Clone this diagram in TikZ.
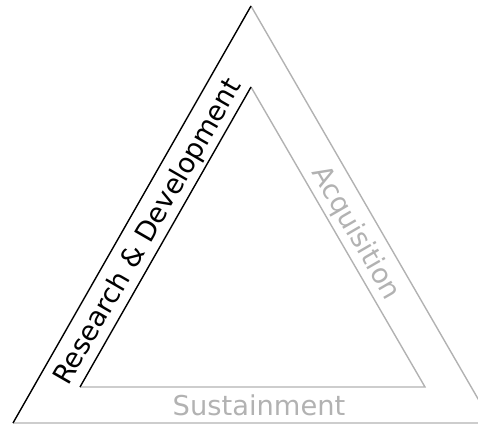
\documentclass[tikz,border=0pt]{standalone}
\usepackage{fontspec}
\setmainfont{DejaVu Sans}
\usepackage{tikz}
\usetikzlibrary{calc, positioning}
\definecolor{sidegrey}{RGB}{178,178,178}

\begin{document}
\begin{tikzpicture}[x=1pt, y=-1pt, line width=1.4pt,
    side label/.style={font=\fontsize{27.3}{32}\selectfont, inner sep=0pt, anchor=base}]
                                \clip (0, 0) rectangle (478, 424);
                                \coordinate (outer top) at (251, 6);
                                \coordinate (outer left) at (13, 423);
                                \coordinate (outer right) at (492, 423);
                                \coordinate (inner top) at (251, 87);
                                \coordinate (inner left) at (80, 387);
                                \coordinate (inner right) at (425, 387);
                                \draw[sidegrey] (outer left) -- (outer right) -- (outer top);
                                \draw[sidegrey] (inner left) -- (inner right) -- (inner top);
                                \draw (outer left) -- (outer top);
                                \draw (inner left) -- (inner top);
                                \node[side label, rotate=60] (research) at (155, 236) {Research \& Development};
                                \node[side label, rotate=-60, text=sidegrey] (acquisition) at (349, 237) {Acquisition};
                                \node[side label, text=sidegrey] (sustainment) at (259, 415) {Sustainment};
\end{tikzpicture}
\end{document}
